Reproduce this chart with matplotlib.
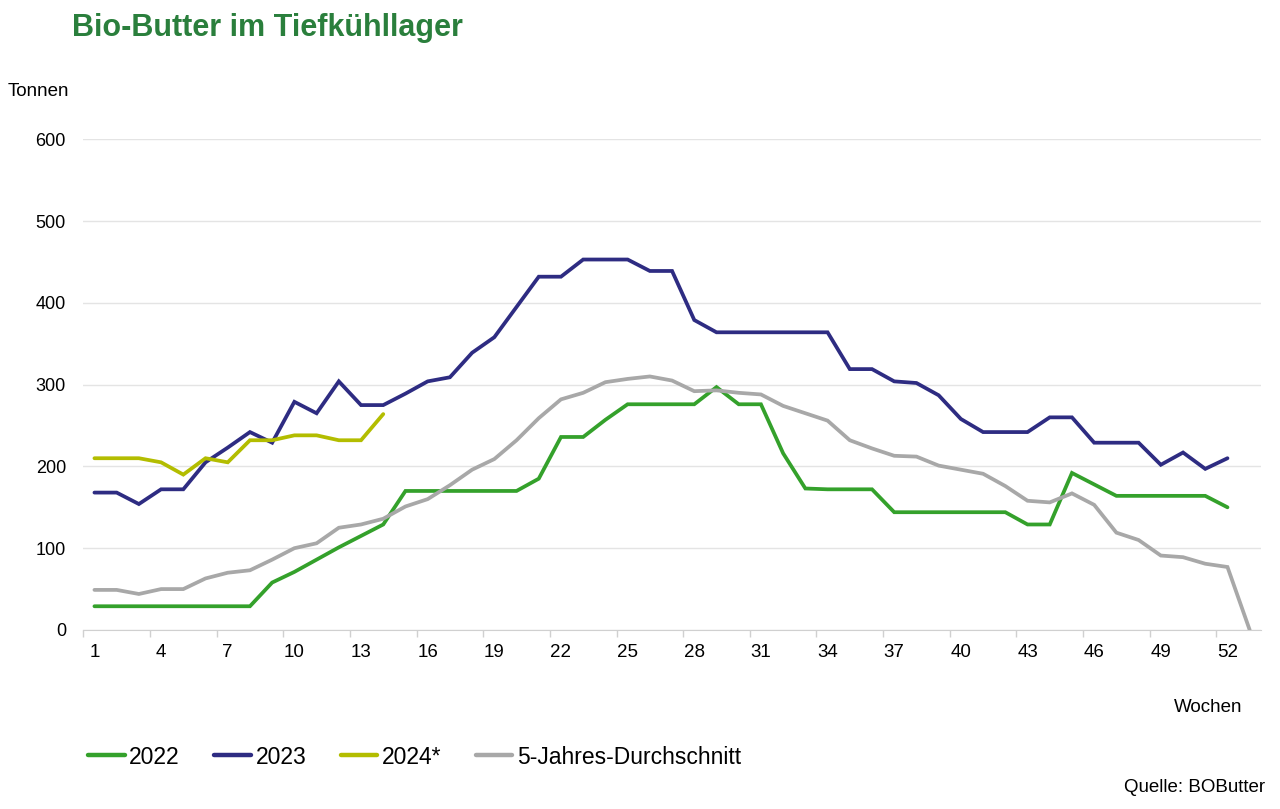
import numpy as np
import matplotlib.pyplot as plt
from matplotlib.ticker import FixedLocator

plt.rcParams["font.family"] = ["Liberation Sans", "DejaVu Sans"]

# -----------------------------
# data (tonnes per calendar week)
# -----------------------------
weeks = list(range(1, 54))

y2022 = [29, 29, 29, 29, 29, 29, 29, 29, 58, 71, 86, 101, 115, 129, 170,
         170, 170, 170, 170, 170, 185, 236, 236, 257, 276, 276, 276, 276, 297, 276,
         276, 216, 173, 172, 172, 172, 144, 144, 144, 144, 144, 144, 129, 129, 192,
         178, 164, 164, 164, 164, 164, 150]

y2023 = [168, 168, 154, 172, 172, 205, 223, 242, 229, 279, 265, 304, 275, 275, 289,
         304, 309, 339, 358, 395, 432, 432, 453, 453, 453, 439, 439, 379, 364, 364,
         364, 364, 364, 364, 319, 319, 304, 302, 287, 258, 242, 242, 242, 260, 260,
         229, 229, 229, 202, 217, 197, 210]

y2024 = [210, 210, 210, 205, 190, 210, 205, 232, 232, 238, 238, 232, 232, 264]

avg5 = [49, 49, 44, 50, 50, 63, 70, 73, 86, 100, 106, 125, 129, 136, 151,
        160, 177, 196, 209, 232, 259, 282, 290, 303, 307, 310, 305, 292, 293, 290,
        288, 274, 265, 256, 232, 222, 213, 212, 201, 196, 191, 176, 158, 156, 167,
        153, 119, 110, 91, 89, 81, 77, 0]

series = [
    ("2022", y2022, "#34a12b"),
    ("2023", y2023, "#2e2c82"),
    ("2024*", y2024, "#b3bd00"),
    ("5-Jahres-Durchschnitt", avg5, "#a8a8a8"),
]

week_labels = list(range(1, 53, 3))

# -----------------------------
# figure
# -----------------------------
fig = plt.figure(figsize=(12.8, 8.09), dpi=100)
ax = fig.add_axes([0.0651, 0.2213, 0.9199, 0.6065])

for name, vals, col in series:
    ax.plot(weeks[:len(vals)], vals, color=col, lw=2.7, label=name,
            solid_joinstyle="miter", solid_capstyle="round", zorder=3)

ax.set_xlim(0.5, 53.5)
ax.set_ylim(0, 600)
ax.set_yticks(range(0, 601, 100))
ax.yaxis.grid(True, color="#e4e4e4", lw=1)
ax.set_axisbelow(True)

ax.set_xticks(week_labels)
ax.xaxis.set_minor_locator(FixedLocator(np.arange(0.5, 52, 3)))
ax.tick_params(axis="x", which="major", length=0, pad=10, labelsize=13.5)
ax.tick_params(axis="x", which="minor", length=5, color="#d0d0d0", width=1)
ax.tick_params(axis="y", length=0, pad=12.5, labelsize=13)

for s in ["top", "right", "left"]:
    ax.spines[s].set_visible(False)
ax.spines["bottom"].set_color("#d0d0d0")

# texts
fig.text(72 / 1280, 1 - 28 / 809, "Bio-Butter im Tiefkühllager", fontsize=22,
         fontweight="bold", color="#2a7f3c", va="center", ha="left")
fig.text(8 / 1280, 1 - 92 / 809, "Tonnen", fontsize=13.5, va="center", ha="left")
fig.text(1242 / 1280, 1 - 708 / 809, "Wochen", fontsize=13.5, va="center", ha="right")
fig.text(1265 / 1280, 1 - 787 / 809, "Quelle: BOButter", fontsize=13.5,
         va="center", ha="right")

leg = fig.legend(loc="center left", bbox_to_anchor=(88 / 1280, 1 - 757 / 809),
                 ncol=4, frameon=False, fontsize=16.5, handlelength=1.6,
                 handletextpad=0.2, columnspacing=1.5, borderpad=0,
                 borderaxespad=0)
for h in leg.get_lines():
    h.set_linewidth(3.2)

fig.savefig("out.png", dpi=100)
